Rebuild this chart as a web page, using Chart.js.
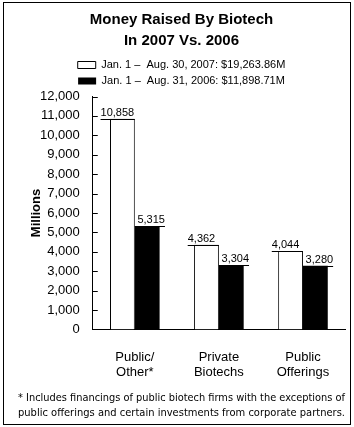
<!DOCTYPE html>
<html>
<head>
<meta charset="utf-8">
<script src="https://cdn.jsdelivr.net/npm/chart.js@4.4.0/dist/chart.umd.min.js"></script>
<style>
  body { margin: 0; background: #fff; }
  #wrap { width: 354px; height: 427px; }
</style>
</head>
<body>
<div id="wrap"><canvas id="biotech"></canvas></div>
<script>
//data
const categories = [["Public/", "Other*"], ["Private", "Biotechs"], ["Public", "Offerings"]];
const values2007 = [10858, 4362, 4044];
const values2006 = [5315, 3304, 3280];
const series2007 = "Jan. 1 \u2013  Aug. 30, 2007: $19,263.86M";
const series2006 = "Jan. 1 \u2013  Aug. 31, 2006: $11,898.71M";
const yTicks = { min: 0, max: 12000, step: 1000 };
const titleLines = ["Money Raised By Biotech", "In 2007 Vs. 2006"];
const footnote = [
	"* Includes financings of public biotech firms with the exceptions of",
	"public offerings and certain investments from corporate partners.",
];

const fmt = (v) => v.toLocaleString("en-US");

//labels above bars, with the little underline
const barLabels = {
	id: "barLabels",
	afterDatasetsDraw(chart) {
		const { ctx } = chart;
		ctx.save();
		ctx.font = "11px 'Liberation Sans', Arial, sans-serif";
		ctx.fillStyle = "#000";
		ctx.strokeStyle = "#000";
		ctx.lineWidth = 1;
		ctx.textAlign = "center";
		ctx.textBaseline = "bottom";
		chart.data.datasets.forEach((ds, di) => {
			const shift = di === 0 ? -5 : 4;
			chart.getDatasetMeta(di).data.forEach((bar, i) => {
				const txt = fmt(ds.data[i]);
				const w = ctx.measureText(txt).width;
				const cx = bar.x + shift;
				const y = Math.round(bar.y) + 0.5;
				ctx.fillText(txt, cx, y - 1);
				ctx.beginPath();
				ctx.moveTo(Math.min(cx - w / 2, bar.x - bar.width / 2), y);
				ctx.lineTo(Math.max(cx + w / 2, bar.x + bar.width / 2), y);
				ctx.stroke();
			});
		});
		ctx.restore();
	},
};

//inward tick marks on y axis + outer frame
const frame = {
	id: "frame",
	afterDraw(chart) {
		const { ctx, chartArea: { left }, scales: { y } } = chart;
		ctx.save();
		ctx.strokeStyle = "#000";
		ctx.lineWidth = 1;
		ctx.beginPath();
		y.ticks.forEach((t) => {
			const py = Math.round(y.getPixelForValue(t.value)) + 0.5;
			ctx.moveTo(left, py);
			ctx.lineTo(left + 5, py);
		});
		ctx.stroke();
		ctx.strokeRect(3.5, 2.5, 347, 422);
		ctx.restore();
	},
};

const config = {
	type: "bar",
	data: {
		labels: categories,
		datasets: [
			{
				label: series2007,
				data: values2007,
				backgroundColor: "#fff",
				borderColor: "#000",
				borderWidth: 1,
			},
			{
				label: series2006,
				data: values2006,
				backgroundColor: "#000",
				borderColor: "#000",
				borderWidth: 0,
			},
		],
	},
	options: {
		responsive: true,
		maintainAspectRatio: false,
		animation: false,
		categoryPercentage: 0.59,
		barPercentage: 1.0,
		layout: {
			padding: { top: 10, left: 18, right: 9, bottom: 6 },
		},
		scales: {
			x: {
				grid: { display: false, drawTicks: false },
				border: { display: true, color: "#000", width: 1 },
				ticks: {
					color: "#000",
					padding: 21,
					maxRotation: 0,
					font: { family: "'Liberation Sans', Arial, sans-serif", size: 13, lineHeight: 1.15 },
				},
			},
			y: {
				min: yTicks.min,
				max: yTicks.max,
				grid: { display: false, drawTicks: false },
				border: { display: true, color: "#000", width: 1 },
				ticks: {
					stepSize: yTicks.step,
					autoSkip: false,
					color: "#000",
					padding: 13,
					font: { family: "'Liberation Sans', Arial, sans-serif", size: 13 },
					callback: (v) => fmt(v),
				},
				title: {
					display: true,
					text: "Millions",
					color: "#000",
					padding: { top: 12, bottom: -16 },
					font: { family: "'Liberation Sans', Arial, sans-serif", size: 13, weight: "bold", lineHeight: 1 },
				},
			},
		},
		plugins: {
			title: {
				display: true,
				text: titleLines,
				color: "#000",
				padding: { top: 0, bottom: 4 },
				font: { family: "'Liberation Sans', Arial, sans-serif", size: 15, weight: "bold", lineHeight: 1.35 },
			},
			legend: {
				display: true,
				labels: {
					color: "#000",
					boxWidth: 18,
					boxHeight: 7,
					padding: 5,
					font: { family: "'Liberation Sans', Arial, sans-serif", size: 11 },
				},
			},
			subtitle: {
				display: true,
				position: "bottom",
				text: footnote,
				color: "#000",
				padding: { top: -10, bottom: 0 },
				font: { family: "'DejaVu Sans', Verdana, sans-serif", size: 10.6, lineHeight: 1.4 },
			},
			tooltip: { enabled: false },
		},
	},
	plugins: [barLabels, frame],
};

const biotechChart = new Chart(document.getElementById("biotech"), config);
</script>
</body>
</html>
